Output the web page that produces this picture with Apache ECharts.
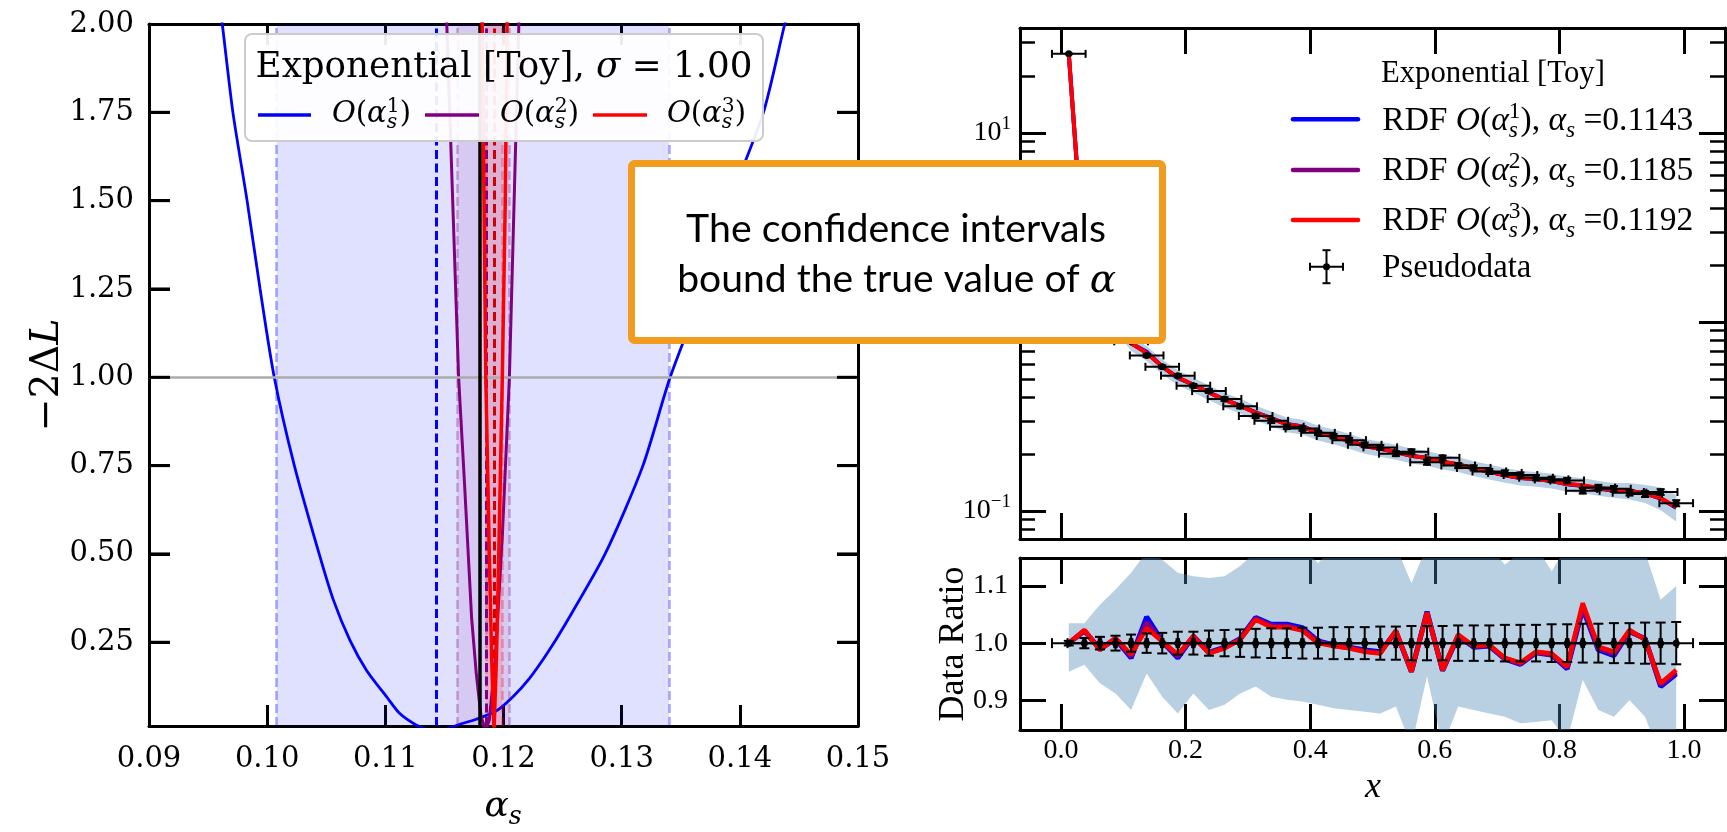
<!DOCTYPE html>
<html><head><meta charset="utf-8">
<script src="https://cdn.jsdelivr.net/npm/echarts@6/dist/echarts.min.js"></script>
<style>html,body{margin:0;padding:0;background:#fff}#c{width:1727px;height:832px}</style>
</head><body><div id="c"></div>
<script>
const alphaO1 = [0.0958,0.0962,0.0971,0.0983,0.0994,0.1006,0.1023,0.1044,0.1056,0.1070,0.1084,0.1101,0.1112,0.1126,0.1135,0.1143,0.1153,0.1163,0.1177,0.1194,0.1208,0.1222,0.1237,0.1251,0.1286,0.1318,0.1341,0.1369,0.1392,0.1420,0.1438,0.1442];
const lossO1  = [2.10,2.00,1.75,1.50,1.25,1.00,0.75,0.50,0.37,0.256,0.171,0.096,0.049,0.016,0.004,0.0,0.006,0.018,0.032,0.056,0.096,0.148,0.219,0.294,0.50,0.75,1.00,1.25,1.50,1.75,2.00,2.05];
const alphaO2 = [0.1151,0.1152,0.1157,0.1162,0.1167,0.1173,0.1177,0.1181,0.1185,0.1188,0.1193,0.1199,0.1205,0.1209,0.1213,0.1214];
const lossO2  = [2.10,2.00,1.50,1.00,0.70,0.32,0.16,0.04,0.0,0.03,0.20,0.55,1.00,1.50,2.00,2.10];
const alphaO3 = [0.11815,0.1182,0.11835,0.1185,0.1188,0.1190,0.1192,0.1194,0.1196,0.1199,0.12015,0.1203,0.12035];
const lossO3  = [2.10,2.00,1.50,1.00,0.50,0.20,0.0,0.20,0.50,1.00,1.50,2.00,2.10];
const bestFitAlpha = [0.1143, 0.1185, 0.1192];
const ciLow  = [0.1008, 0.1161, 0.1185];
const ciHigh = [0.1340, 0.1205, 0.1199];
const trueAlpha = 0.118;
const sigmaLabel = '1.00';
const leftXTicks = [0.09,0.10,0.11,0.12,0.13,0.14,0.15];
const leftYTicks = [0.25,0.50,0.75,1.00,1.25,1.50,1.75,2.00];

const xBins = [0.0125,0.0375,0.0625,0.0875,0.1125,0.1375,0.1625,0.1875,0.2125,0.2375,0.2625,0.2875,0.3125,0.3375,0.3625,0.3875,0.4125,0.4375,0.4625,0.4875,0.5125,0.5375,0.5625,0.5875,0.6125,0.6375,0.6625,0.6875,0.7125,0.7375,0.7625,0.7875,0.8125,0.8375,0.8625,0.8875,0.9125,0.9375,0.9625,0.9875];
const pseudo = [26.2,1.9,1.3,0.98,0.79,0.665,0.579,0.520,0.460,0.431,0.391,0.358,0.318,0.300,0.279,0.273,0.259,0.249,0.237,0.224,0.217,0.201,0.206,0.181,0.191,0.174,0.169,0.162,0.159,0.155,0.150,0.147,0.145,0.128,0.133,0.131,0.125,0.123,0.126,0.110];
const pseudoRelErr = [0.004,0.009,0.011,0.013,0.015,0.017,0.018,0.020,0.020,0.022,0.023,0.024,0.025,0.026,0.026,0.027,0.027,0.028,0.028,0.028,0.029,0.029,0.030,0.030,0.030,0.031,0.031,0.031,0.032,0.032,0.032,0.033,0.033,0.034,0.034,0.035,0.035,0.036,0.036,0.037];
const xHalfWidth = 0.027;
const ratioO1 = [1.000,1.021,0.990,1.007,0.974,1.046,1.003,0.974,1.012,0.984,0.993,1.008,1.045,1.033,1.033,1.027,1.004,0.997,0.993,0.988,0.985,1.020,0.950,1.055,0.952,1.012,0.993,0.995,0.972,0.963,0.983,0.979,0.955,1.060,0.988,0.978,1.020,1.008,0.924,0.946];
const ratioO2 = [1.000,1.022,0.989,1.008,0.977,1.036,1.003,0.977,1.012,0.983,0.992,1.007,1.043,1.030,1.030,1.024,1.002,0.996,0.992,0.986,0.983,1.021,0.950,1.054,0.952,1.013,0.994,0.996,0.973,0.964,0.984,0.980,0.957,1.065,0.991,0.981,1.021,1.007,0.927,0.949];
const ratioO3 = [1.000,1.023,0.988,1.009,0.980,1.026,1.003,0.980,1.012,0.982,0.991,1.006,1.041,1.028,1.028,1.022,1.000,0.995,0.991,0.985,0.982,1.022,0.950,1.053,0.953,1.015,0.995,0.997,0.974,0.966,0.985,0.982,0.959,1.070,0.994,0.985,1.023,1.006,0.930,0.953];
const ratioBandLo = [0.950,0.962,0.930,0.912,0.883,0.947,0.906,0.877,0.912,0.883,0.892,0.912,0.924,0.906,0.901,0.898,0.892,0.886,0.883,0.880,0.877,0.889,0.820,0.942,0.820,0.889,0.883,0.877,0.871,0.860,0.862,0.865,0.830,0.936,0.883,0.871,0.900,0.871,0.800,0.800];
const ratioBandHi = [1.035,1.035,1.067,1.094,1.123,1.160,1.146,1.123,1.117,1.114,1.117,1.135,1.160,1.170,1.170,1.170,1.140,1.170,1.170,1.170,1.165,1.170,1.105,1.170,1.170,1.170,1.170,1.170,1.137,1.160,1.170,1.126,1.170,1.200,1.170,1.170,1.170,1.160,1.076,1.100];
const topBandRel = [0.09,0.09,0.09,0.09,0.09,0.09,0.09,0.09,0.09,0.09,0.09,0.09,0.09,0.09,0.09,0.09,0.09,0.09,0.09,0.09,0.09,0.09,0.09,0.09,0.09,0.09,0.09,0.09,0.09,0.09,0.09,0.09,0.09,0.09,0.09,0.09,0.10,0.11,0.14,0.16];
const rightXTicks = [0.0,0.2,0.4,0.6,0.8,1.0];
const logMajor = [-1,0,1];
const ratioYTicks = [0.9,1.0,1.1];
const topYMin = 0.0711, topYMax = 35.9;

const BLUE='#0000ff', PURPLE='#800080', RED='#ff0000';
const FL='DejaVu Serif', FR='Liberation Serif';
const mctx = document.createElement('canvas').getContext('2d');
function fontStr(s,f,it){return (it?'italic ':'')+s+'px "'+f+'"';}
function textW(t,s,f,it){mctx.font=fontStr(s,f,it);return mctx.measureText(t).width;}
function midOff(s,f,it){mctx.font=fontStr(s,f,it);mctx.textBaseline='alphabetic';const A=mctx.measureText('Hx').fontBoundingBoxAscent;mctx.textBaseline='middle';const M=mctx.measureText('Hx').fontBoundingBoxAscent;mctx.textBaseline='alphabetic';return A-M;}
function mathRun(parts,o){
  const lay=(sz)=>{let cur=0,pend=0;const out=[];for(const p of parts){const s=sz*(p.r||1);const f=p.fam||o.fam;const w=textW(p.t,s,f,p.it);out.push({p,s,f,x:cur});if(p.stack){pend=w;}else{cur+=Math.max(w,pend);pend=0;}}return {out,w:cur};};
  let size=o.size;let L=lay(size);
  if(o.target){size=size*o.target/L.w;L=lay(size);}
  const x0=o.align==='center'?o.x-L.w/2:(o.align==='right'?o.x-L.w:o.x);
  return L.out.map(q=>({type:'text',z:100,x:x0+q.x,y:o.y+(q.p.dy||0)*size-midOff(q.s,q.f,q.p.it),silent:true,
    style:{text:q.p.t,fontSize:q.s,fontFamily:q.f,fontStyle:q.p.it?'italic':'normal',fill:o.color||'#000',align:'left',verticalAlign:'middle'}}));
}
const Oalpha=n=>[{t:'O',it:1},{t:'('},{t:'α',it:1},{t:String(n),r:0.7,dy:-0.36,stack:1},{t:'s',r:0.7,it:1,dy:0.2},{t:')'}];

function axisCommon(o){
  return {type:'value',gridIndex:o.grid,position:o.pos,min:o.min,max:o.max,
    splitLine:{show:false},
    axisLine:{show:o.line!==false,onZero:false,lineStyle:{color:'#000',width:3}},
    axisTick:o.ticks?{show:true,inside:true,length:o.tl||21,customValues:o.ticks,lineStyle:{color:'#000',width:o.tw||3}}:{show:false},
    axisLabel:o.labels?Object.assign({show:true,customValues:o.labels,color:'#000'},o.label):{show:false}};
}
function bandSeries(xi,yi,xs,lo,hi,color){
  return {type:'custom',xAxisIndex:xi,yAxisIndex:yi,z:1,silent:true,data:[[xs[0],lo[0]]],
    renderItem(params,api){
      const pts=[];for(let i=0;i<xs.length;i++)pts.push(api.coord([xs[i],hi[i]]));
      for(let i=xs.length-1;i>=0;i--)pts.push(api.coord([xs[i],lo[i]]));
      const cs=params.coordSys;
      return {type:'polygon',shape:{points:pts},style:{fill:color},
        clipPath:{type:'rect',shape:{x:cs.x,y:cs.y,width:cs.width,height:cs.height}}};
    }};
}
function errSeries(xi,yi,rows,cap){
  return {type:'custom',xAxisIndex:xi,yAxisIndex:yi,z:6,silent:true,data:rows,
    dimensions:['x','y','ylo','yhi','xlo','xhi'],encode:{x:0,y:1},
    renderItem(params,api){
      const x=api.value(0),y=api.value(1);
      const c=api.coord([x,y]),l=api.coord([api.value(4),y]),r=api.coord([api.value(5),y]);
      const b=api.coord([x,api.value(2)]),t=api.coord([x,api.value(3)]);
      const st={stroke:'#000',lineWidth:2};const k=cap;
      return {type:'group',children:[
        {type:'line',shape:{x1:l[0],y1:c[1],x2:r[0],y2:c[1]},style:st},
        {type:'line',shape:{x1:c[0],y1:b[1],x2:c[0],y2:t[1]},style:st},
        {type:'line',shape:{x1:l[0],y1:c[1]-k,x2:l[0],y2:c[1]+k},style:st},
        {type:'line',shape:{x1:r[0],y1:c[1]-k,x2:r[0],y2:c[1]+k},style:st},
        {type:'line',shape:{x1:c[0]-k,y1:b[1],x2:c[0]+k,y2:b[1]},style:st},
        {type:'line',shape:{x1:c[0]-k,y1:t[1],x2:c[0]+k,y2:t[1]},style:st},
        {type:'circle',shape:{cx:c[0],cy:c[1],r:3.5},style:{fill:'#000'}}]};
    }};
}
const zip=(a,b)=>a.map((v,i)=>[v,b[i]]);
const lg=Math.log10;

const LG={left:149,top:24,width:709,height:702};
const LX=[0.09,0.15], LY=[0.013,2.0];
const BOX={x:628,y:160,w:538,h:184};

const modelO1 = pseudo.map((v,i)=>v*ratioO1[i]);
const modelO2 = pseudo.map((v,i)=>v*ratioO2[i]);
const modelO3 = pseudo.map((v,i)=>v*ratioO3[i]);
const topLo = modelO3.map((v,i)=>lg(v*(1-topBandRel[i])));
const topHi = modelO3.map((v,i)=>lg(v*(1+topBandRel[i])));
const topRows = xBins.map((x,i)=>[x,lg(pseudo[i]),lg(pseudo[i]*(1-pseudoRelErr[i])),lg(pseudo[i]*(1+pseudoRelErr[i])),x-xHalfWidth,x+xHalfWidth]);
const ratioRows = xBins.map((x,i)=>[x,1,1-pseudoRelErr[i],1+pseudoRelErr[i],x-xHalfWidth,x+xHalfWidth]);
const minorLog=[];for(let e=-2;e<=1;e++)for(let k=2;k<=9;k++){const v=lg(k*Math.pow(10,e));if(v>lg(topYMin)&&v<lg(topYMax))minorLog.push(v);}

const leftLabelStyle={fontFamily:FL,fontSize:29};
const rightLabelStyle={fontFamily:FR,fontSize:28};

// left x axes use a regular interval (min is a multiple of it)
const leftXAxis=(pos,withLabels)=>({type:'value',gridIndex:0,position:pos,min:LX[0],max:LX[1],interval:0.01,
  splitLine:{show:false},axisLine:{show:true,onZero:false,lineStyle:{color:'#000',width:3}},
  axisTick:{show:true,inside:true,length:21,lineStyle:{color:'#000',width:3}},
  axisLabel:withLabels?Object.assign({show:true,color:'#000',margin:19,formatter:v=>v.toFixed(2)},leftLabelStyle):{show:false}});
const xAxis=[
  leftXAxis('bottom',true),
  leftXAxis('top',false),
  axisCommon({grid:1,pos:'bottom',min:-0.0658,max:1.0658,ticks:rightXTicks,tl:26}),
  axisCommon({grid:1,pos:'top',min:-0.0658,max:1.0658,ticks:rightXTicks,tl:26}),
  axisCommon({grid:2,pos:'bottom',min:-0.0658,max:1.0658,ticks:rightXTicks,tl:26,labels:rightXTicks,label:Object.assign({margin:7,formatter:v=>v.toFixed(1)},rightLabelStyle)}),
  axisCommon({grid:2,pos:'top',min:-0.0658,max:1.0658,ticks:rightXTicks,tl:26})
];
const logRich={b:{fontFamily:FR,fontSize:28,color:'#000'},s:{fontFamily:FR,fontSize:19,color:'#000',padding:[0,0,18,0]}};
const yAxis=[
  axisCommon({grid:0,pos:'left',min:LY[0],max:LY[1],ticks:leftYTicks,tl:21,labels:leftYTicks,label:Object.assign({margin:15,formatter:v=>v.toFixed(2)},leftLabelStyle)}),
  axisCommon({grid:0,pos:'right',min:LY[0],max:LY[1],ticks:leftYTicks,tl:21}),
  axisCommon({grid:1,pos:'left',min:lg(topYMin),max:lg(topYMax),ticks:logMajor,tl:26,labels:logMajor,label:{margin:9,formatter:v=>'{b|10}{s|'+(Math.round(v)<0?'−':'')+Math.abs(Math.round(v))+'}',rich:logRich}}),
  axisCommon({grid:1,pos:'right',min:lg(topYMin),max:lg(topYMax),ticks:logMajor,tl:26}),
  axisCommon({grid:1,pos:'left',min:lg(topYMin),max:lg(topYMax),ticks:minorLog,tl:15,tw:2.5,line:false}),
  axisCommon({grid:1,pos:'right',min:lg(topYMin),max:lg(topYMax),ticks:minorLog,tl:15,tw:2.5,line:false}),
  axisCommon({grid:2,pos:'left',min:0.848,max:1.149,ticks:ratioYTicks,tl:26,labels:ratioYTicks,label:Object.assign({margin:12,formatter:v=>v.toFixed(1)},rightLabelStyle)}),
  axisCommon({grid:2,pos:'right',min:0.848,max:1.149,ticks:ratioYTicks,tl:26})
];

const edgeCols=['rgba(0,0,255,0.35)','rgba(128,0,128,0.3)','rgba(255,0,0,0.3)'];
const bandCols=['rgba(0,0,255,0.12)','rgba(128,0,128,0.10)','rgba(255,0,0,0.12)'];
const bestCols=[BLUE,PURPLE,'#d00000'];
const series=[
  {type:'line',xAxisIndex:0,yAxisIndex:0,z:1,silent:true,showSymbol:false,data:[[0.09,-5]],
    markArea:{silent:true,data:ciLow.map((v,i)=>[{xAxis:v,itemStyle:{color:bandCols[i]}},{xAxis:ciHigh[i]}])},
    markLine:{silent:true,precision:6,symbol:['none','none'],label:{show:false},
      data:[].concat(...ciLow.map((v,i)=>[{xAxis:v,lineStyle:{color:edgeCols[i],width:2.5,type:[9,4]}},{xAxis:ciHigh[i],lineStyle:{color:edgeCols[i],width:2.5,type:[9,4]}}]))}},
  {type:'line',xAxisIndex:0,yAxisIndex:0,z:2,silent:true,showSymbol:false,data:[[0.09,-5]],
    markLine:{silent:true,precision:6,symbol:['none','none'],label:{show:false},
      data:[{yAxis:1.0,lineStyle:{color:'#ababab',width:2.5,type:'solid'}}]
        .concat(bestFitAlpha.map((v,i)=>({xAxis:v,lineStyle:{color:bestCols[i],width:3,type:[9,4.5]}})))
        .concat([{xAxis:trueAlpha,lineStyle:{color:'#000',width:3.5,type:'solid'}}])}},
  {type:'line',name:'O1',xAxisIndex:0,yAxisIndex:0,z:3,showSymbol:false,smooth:0.25,data:zip(alphaO1,lossO1),lineStyle:{color:BLUE,width:2.8}},
  {type:'line',name:'O2',xAxisIndex:0,yAxisIndex:0,z:4,showSymbol:false,data:zip(alphaO2,lossO2),lineStyle:{color:PURPLE,width:3}},
  {type:'line',name:'O3',xAxisIndex:0,yAxisIndex:0,z:5,showSymbol:false,data:zip(alphaO3,lossO3),lineStyle:{color:RED,width:3.5}},
  bandSeries(2,2,xBins,topLo,topHi,'rgba(70,130,180,0.38)'),
  {type:'line',xAxisIndex:2,yAxisIndex:2,z:3,showSymbol:false,data:xBins.map((x,i)=>[x,lg(modelO1[i])]),lineStyle:{color:BLUE,width:4}},
  {type:'line',xAxisIndex:2,yAxisIndex:2,z:4,showSymbol:false,data:xBins.map((x,i)=>[x,lg(modelO2[i])]),lineStyle:{color:PURPLE,width:4}},
  {type:'line',xAxisIndex:2,yAxisIndex:2,z:5,showSymbol:false,data:xBins.map((x,i)=>[x,lg(modelO3[i])]),lineStyle:{color:RED,width:4}},
  errSeries(2,2,topRows,4),
  bandSeries(4,6,xBins,ratioBandLo,ratioBandHi,'rgba(70,130,180,0.38)'),
  {type:'line',xAxisIndex:4,yAxisIndex:6,z:3,showSymbol:false,data:zip(xBins,ratioO1),lineStyle:{color:BLUE,width:5}},
  {type:'line',xAxisIndex:4,yAxisIndex:6,z:4,showSymbol:false,data:zip(xBins,ratioO2),lineStyle:{color:PURPLE,width:5}},
  {type:'line',xAxisIndex:4,yAxisIndex:6,z:5,showSymbol:false,data:zip(xBins,ratioO3),lineStyle:{color:RED,width:4.5}},
  errSeries(4,6,ratioRows,5)
];

const G=[];
G.push({type:'rect',z:90,silent:true,shape:{x:245,y:34,width:518,height:107,r:7},style:{fill:'rgba(255,255,255,0.92)',stroke:'#cccccc',lineWidth:2}});
G.push(...mathRun([{t:'Exponential [Toy], '},{t:'σ',it:1},{t:' = '+sigmaLabel}],{x:504,y:77.3,align:'center',fam:FL,size:30,target:497}));
const legL=[[258,311,332,BLUE,1],[425,479,500,PURPLE,2],[593,647,667,RED,3]];
legL.forEach(([a,b,tx,col,n])=>{
  G.push({type:'line',z:100,silent:true,shape:{x1:a,y1:115,x2:b,y2:115},style:{stroke:col,lineWidth:3.5}});
  G.push(...mathRun(Oalpha(n),{x:tx,y:122,fam:FL,size:26,target:79}));
});
G.push(...mathRun([{t:'α',it:1},{t:'s',r:0.7,it:1,dy:0.22}],{x:503,y:816,align:'center',fam:FL,size:36}));
G.push({type:'group',x:58,y:375,rotation:Math.PI/2,children:mathRun([{t:'−2Δ'},{t:'L',it:1}],{x:0,y:0,align:'center',fam:FL,size:40,target:113})});
G.push(...mathRun([{t:'x',it:1}],{x:1373,y:796.5,align:'center',fam:FR,size:36}));
G.push({type:'text',z:100,silent:true,x:953.5,y:644,rotation:Math.PI/2,style:{text:'Data Ratio',fontFamily:FR,fontSize:36,fill:'#000',align:'center',verticalAlign:'middle'}});
G.push(...mathRun([{t:'Exponential [Toy]'}],{x:1381,y:81.7,fam:FR,size:30,target:224}));
const legR=[[119.3,130,BLUE,1,0],[170,180,PURPLE,2,1],[220,230,RED,3,2]];
legR.forEach(([ly,by,col,n,i])=>{
  G.push({type:'line',z:100,silent:true,shape:{x1:1293,y1:ly,x2:1358,y2:ly},style:{stroke:col,lineWidth:4.5,lineCap:'round'}});
  G.push(...mathRun([{t:'RDF '}].concat(Oalpha(n)).concat([{t:', '},{t:'α',it:1},{t:'s',r:0.7,it:1,dy:0.2},{t:' ='+bestFitAlpha[i].toFixed(4)}]),{x:1382.3,y:by,fam:FR,size:30,target:311}));
});
const pm={x:1326.5,y:266.7};
[[pm.x-16.5,pm.y,pm.x+16.5,pm.y],[pm.x,pm.y-16.5,pm.x,pm.y+16.5],[pm.x-16.5,pm.y-4,pm.x-16.5,pm.y+4],[pm.x+16.5,pm.y-4,pm.x+16.5,pm.y+4],[pm.x-4,pm.y-16.5,pm.x+4,pm.y-16.5],[pm.x-4,pm.y+16.5,pm.x+4,pm.y+16.5]]
  .forEach(s=>G.push({type:'line',z:100,silent:true,shape:{x1:s[0],y1:s[1],x2:s[2],y2:s[3]},style:{stroke:'#000',lineWidth:2}}));
G.push({type:'circle',z:100,silent:true,shape:{cx:pm.x,cy:pm.y,r:3.5},style:{fill:'#000'}});
G.push(...mathRun([{t:'Pseudodata'}],{x:1382.3,y:277.3,fam:FR,size:30,target:149}));
G.push({type:'rect',z:110,silent:true,shape:{x:BOX.x+3.5,y:BOX.y+3.5,width:BOX.w-7,height:BOX.h-7,r:3},style:{fill:'#ffffff',stroke:'#f29c1f',lineWidth:7}});
G.push(...mathRun([{t:'The confidence intervals'}],{x:896,y:241.7,align:'center',fam:'Lato',size:37,target:420}).map(e=>Object.assign(e,{z:120})));
G.push(...mathRun([{t:'bound the true value of '},{t:'α',it:1,fam:FL}],{x:896.7,y:291.7,align:'center',fam:'Lato',size:37,target:439}).map(e=>Object.assign(e,{z:120})));

// left-panel y ticks also drawn explicitly (skipped where the annotation box covers them)
const TL=21;const tk=[];
const py=v=>LG.top+LG.height-(v-LY[0])/(LY[1]-LY[0])*LG.height;
const inBox=(x,y)=>x>=BOX.x&&x<=BOX.x+BOX.w&&y>=BOX.y&&y<=BOX.y+BOX.h;
const addTick=(x1,y1,x2,y2)=>{if(inBox(x1,y1))return;tk.push({type:'line',z:105,silent:true,shape:{x1,y1,x2,y2},style:{stroke:'#000000',lineWidth:3}});};
leftYTicks.slice(0,-1).forEach(v=>{const y=py(v);
  addTick(LG.left,y,LG.left+TL,y);addTick(LG.left+LG.width,y,LG.left+LG.width-TL,y);});

const chart=echarts.init(document.getElementById('c'),null,{renderer:'canvas'});
chart.setOption({
  animation:false,backgroundColor:'#ffffff',
  grid:[LG,{left:1020,top:28,width:705,height:511},{left:1020,top:558,width:705,height:172}],
  xAxis,yAxis,series,
  graphic:{elements:G.concat(tk)}
});
</script></body></html>
